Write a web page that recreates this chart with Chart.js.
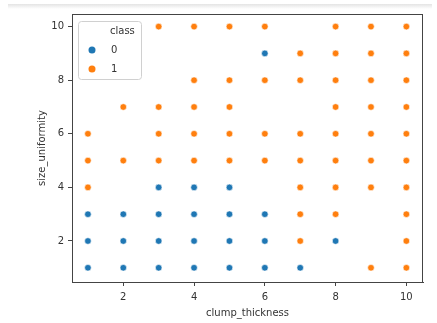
<!DOCTYPE html>
<html>
<head>
<meta charset="utf-8">
<script src="https://cdn.jsdelivr.net/npm/chart.js@4"></script>
<style>
  body { margin: 0; background: #fff; }
  #wrap { position: relative; width: 437px; height: 323px; }
  #shade { position: absolute; left: 8px; top: 4px; width: 424px; height: 5px;
           background: linear-gradient(#e4e4e4, #fff); }
  canvas { position: absolute; left: 0; top: 0; }
</style>
</head>
<body>
<div id="wrap">
  <div id="shade"></div>
  <canvas id="scatterChart" width="437" height="323"></canvas>
</div>
<script>
// values
const classLabels = ['0', '1'];
const classColors = ['#1f77b4', '#ff7f0e'];
const legendTitle = 'class';

const class0X = [6, 3, 4, 5, 1, 2, 3, 4, 5, 6, 1, 2, 3, 4, 5, 6, 8, 1, 2, 3, 4, 5, 6, 7];
const class0Y = [9, 4, 4, 4, 3, 3, 3, 3, 3, 3, 2, 2, 2, 2, 2, 2, 2, 1, 1, 1, 1, 1, 1, 1];

const class1X = [3, 4, 5, 6, 8, 9, 10,
                 7, 8, 9, 10,
                 4, 5, 6, 7, 8, 9, 10,
                 2, 3, 4, 5, 8, 9, 10,
                 1, 3, 4, 5, 6, 7, 8, 9, 10,
                 1, 2, 3, 4, 5, 6, 7, 8, 9, 10,
                 1, 7, 8, 9, 10,
                 7, 8, 10,
                 7, 10,
                 9, 10];
const class1Y = [10, 10, 10, 10, 10, 10, 10,
                 9, 9, 9, 9,
                 8, 8, 8, 8, 8, 8, 8,
                 7, 7, 7, 7, 7, 7, 7,
                 6, 6, 6, 6, 6, 6, 6, 6, 6,
                 5, 5, 5, 5, 5, 5, 5, 5, 5, 5,
                 4, 4, 4, 4, 4,
                 3, 3, 3,
                 2, 2,
                 1, 1];

const xTicks = [2, 4, 6, 8, 10];
const yTicks = [2, 4, 6, 8, 10];

const toPoints = (xs, ys) => xs.map((x, i) => ({ x: x, y: ys[i] }));

const FONT = { family: 'DejaVu Sans', size: 10 };
const TEXT = '#333';

// frame round the plot area + seaborn style legend box
const framePlugin = {
  id: 'frame',
  afterDraw(chart) {
    const ctx = chart.ctx;
    const ca = chart.chartArea;
    ctx.save();
    ctx.strokeStyle = '#444';
    ctx.lineWidth = 1;
    ctx.strokeRect(ca.left + 0.5, ca.top + 0.5, ca.right - ca.left - 1, ca.bottom - ca.top);

    const bx = ca.left + 6, by = ca.top + 7, bw = 63, bh = 58;
    ctx.beginPath();
    ctx.roundRect(bx + 0.5, by + 0.5, bw, bh, 3);
    ctx.fillStyle = 'rgba(255,255,255,0.8)';
    ctx.fill();
    ctx.strokeStyle = '#d0d0d0';
    ctx.stroke();

    ctx.font = '10px "DejaVu Sans"';
    ctx.fillStyle = TEXT;
    ctx.textBaseline = 'middle';
    ctx.textAlign = 'left';
    ctx.fillText(legendTitle, bx + 32, by + 10);
    chart.data.datasets.forEach((ds, i) => {
      const yy = by + 29 + i * 19;
      ctx.beginPath();
      ctx.arc(bx + 14, yy, 3.5, 0, Math.PI * 2);
      ctx.fillStyle = ds.backgroundColor;
      ctx.fill();
      ctx.fillStyle = TEXT;
      ctx.fillText(ds.label, bx + 33, yy);
    });
    ctx.restore();
  }
};

new Chart(document.getElementById('scatterChart').getContext('2d'), {
  type: 'scatter',
  data: {
    datasets: [
      {
        label: classLabels[0],
        data: toPoints(class0X, class0Y),
        backgroundColor: classColors[0],
        borderColor: '#ffffff',
        borderWidth: 0.6,
        pointRadius: 3.3,
      },
      {
        label: classLabels[1],
        data: toPoints(class1X, class1Y),
        backgroundColor: classColors[1],
        borderColor: '#ffffff',
        borderWidth: 0.6,
        pointRadius: 3.3,
      },
    ],
  },
  options: {
    responsive: false,
    animation: false,
    layout: { padding: { left: 32, top: 14, right: 14, bottom: 0 } },
    plugins: {
      legend: { display: false },
      tooltip: { enabled: false },
    },
    scales: {
      x: {
        type: 'linear',
        min: 0.55,
        max: 10.47,
        afterBuildTicks: scale => { scale.ticks = xTicks.map(v => ({ value: v })); },
        afterFit: scale => { scale.height = 41; },
        grid: { drawOnChartArea: false, color: '#444', tickLength: 4, tickWidth: 1 },
        border: { display: true, color: '#444' },
        ticks: { font: FONT, color: TEXT, padding: 5, maxRotation: 0 },
        title: { display: true, text: 'clump_thickness', font: FONT, color: TEXT },
      },
      y: {
        type: 'linear',
        min: 0.47,
        max: 10.47,
        afterBuildTicks: scale => { scale.ticks = yTicks.map(v => ({ value: v })); },
        afterFit: scale => { scale.width = 40; },
        grid: { drawOnChartArea: false, color: '#444', tickLength: 4, tickWidth: 1 },
        border: { display: true, color: '#444' },
        ticks: { font: FONT, color: TEXT, padding: 4 },
        title: { display: true, text: 'size_uniformity', font: FONT, color: TEXT },
      },
    },
  },
  plugins: [framePlugin],
});
</script>
</body>
</html>
